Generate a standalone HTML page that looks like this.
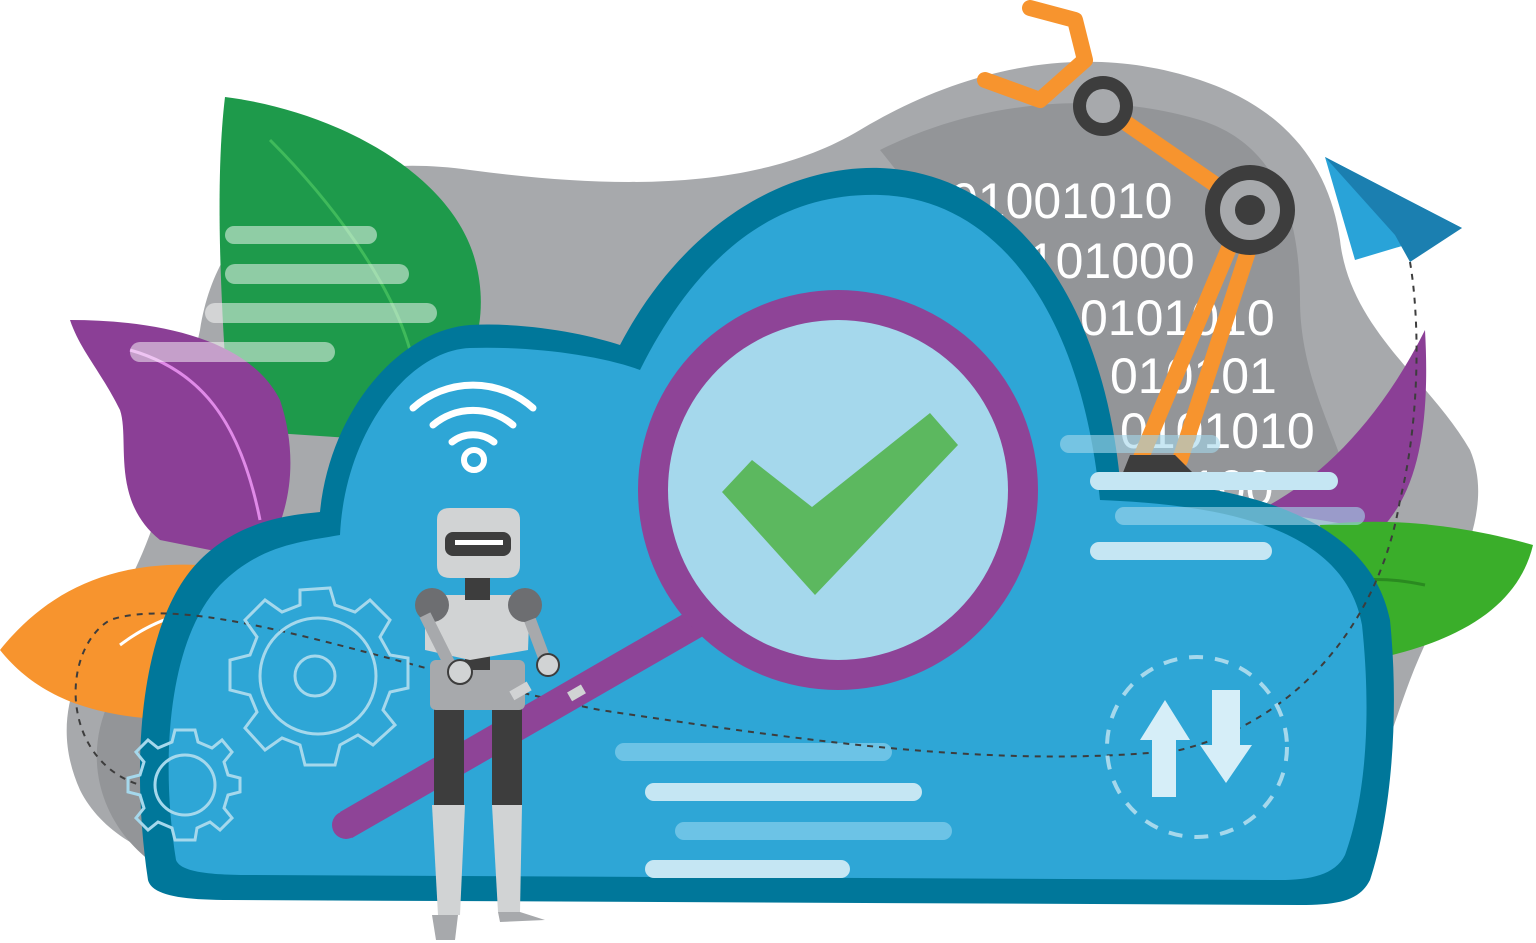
<!DOCTYPE html>
<html><head><meta charset="utf-8"><style>html,body{margin:0;padding:0;background:#fff;width:1536px;height:943px;overflow:hidden}svg{display:block}</style></head>
<body>
<svg width="1536" height="943" viewBox="0 0 1536 943" xmlns="http://www.w3.org/2000/svg">
<path d="M200,330 C220,200 330,150 470,170 C620,190 760,190 860,130 C960,70 1080,40 1200,80 C1290,110 1330,170 1340,240 C1350,330 1430,380 1470,450 C1500,520 1440,600 1410,680 C1380,760 1360,850 1300,880 L400,890 C250,890 120,870 80,790 C40,700 100,640 130,580 C170,500 180,420 200,330 Z" fill="#a7a9ac"/>
<path d="M880,150 C980,100 1100,90 1200,120 C1280,145 1300,220 1300,300 C1300,380 1340,440 1350,490 L1120,490 C1060,400 1000,300 880,150 Z" fill="#939598"/>
<path d="M110,700 C80,760 100,840 180,880 L300,880 L200,700 Z" fill="#939598"/>
<g font-family="Liberation Sans, sans-serif" font-size="50" fill="#fff">
<text x="950" y="218">01001010</text>
<text x="1000" y="278">0101000</text>
<text x="1080" y="335">0101010</text>
<text x="1110" y="393">010101</text>
<text x="1120" y="448">0101010</text>
<text x="1190" y="505">100</text>
</g>
<path d="M225,97 C330,110 450,170 475,260 C500,350 440,430 380,440 L230,430 C220,300 215,180 225,97 Z" fill="#1e9a4b"/>
<path d="M270,140 C330,200 390,280 410,350" stroke="#3fba5b" stroke-width="3" fill="none"/>
<path d="M70,320 C160,320 250,340 280,400 C300,460 290,520 260,560 L160,540 C110,500 130,440 120,410 C100,370 80,350 70,320 Z" fill="#8b3f96"/>
<path d="M130,350 C200,370 240,420 260,520" stroke="#e08ae8" stroke-width="3" fill="none"/>
<path d="M0,650 C40,600 100,560 200,565 L190,720 C100,720 40,700 0,650 Z" fill="#f7942e"/>
<path d="M120,645 C140,630 160,620 180,615" stroke="#fff" stroke-width="3" fill="none"/>
<path d="M1425,330 C1430,420 1420,490 1380,530 L1260,510 C1320,480 1380,420 1425,330 Z" fill="#8b3f96"/>
<path d="M1320,525 C1400,515 1480,530 1533,545 C1520,600 1470,640 1370,660 L1330,600 Z" fill="#3aae2a"/>
<path d="M1360,580 C1390,578 1410,582 1425,585" stroke="#2a8a20" stroke-width="3" fill="none"/>
<g fill="#ffffff" opacity="0.5">
<rect x="225" y="226" width="152" height="18" rx="9"/>
<rect x="225" y="264" width="184" height="20" rx="10"/>
<rect x="205" y="303" width="232" height="20" rx="10"/>
<rect x="130" y="342" width="205" height="20" rx="10"/>
</g>
<g stroke="#f7942e" stroke-width="16" fill="none" stroke-linecap="round" stroke-linejoin="round">
<path d="M1030,8 L1075,20 L1085,60 L1040,100 L985,80"/>
<path d="M1100,105 L1245,205"/>
<path d="M1245,210 L1140,460"/>
<path d="M1255,230 L1180,460"/>
</g>
<circle cx="1103" cy="106" r="30" fill="#3d3d3d"/><circle cx="1103" cy="106" r="17" fill="#a7a9ac"/>
<circle cx="1250" cy="210" r="45" fill="#3d3d3d"/><circle cx="1250" cy="210" r="30" fill="#a7a9ac"/><circle cx="1250" cy="210" r="15" fill="#3d3d3d"/>
<path d="M1130,455 L1175,455 L1200,480 L1120,480 Z" fill="#3d3d3d"/>
<path d="M1325,157 L1462,228 L1355,260 Z" fill="#29a3d8"/>
<path d="M1325,157 L1462,228 L1410,262 L1395,235 Z" fill="#1b7fb0"/>
<path d="M148,880 C130,760 140,620 200,560 C240,520 290,515 320,512 C330,410 400,330 470,325 C530,322 590,335 620,345 C680,230 780,165 880,168 C1000,172 1100,280 1120,480 C1250,485 1370,520 1390,620 C1400,720 1390,820 1370,880 C1360,900 1340,905 1300,905 L230,900 C180,900 152,895 148,880 Z" fill="#00779a"/>
<path d="M176,860 C160,760 168,640 220,585 C260,545 300,542 340,535 C345,430 410,350 470,348 C530,346 600,355 640,370 C700,250 780,192 880,195 C990,198 1080,300 1100,500 C1230,505 1345,530 1362,625 C1372,720 1365,800 1345,855 C1335,875 1310,880 1280,880 L250,875 C200,875 180,870 176,860 Z" fill="#2ea6d6"/>
<g fill="#a5d8ec" opacity="0.6"><rect x="1060" y="435" width="160" height="18" rx="9"/><rect x="1115" y="507" width="250" height="18" rx="9"/></g>
<g fill="#c5e6f3"><rect x="1090" y="472" width="248" height="18" rx="9"/><rect x="1090" y="542" width="182" height="18" rx="9"/>
<rect x="645" y="783" width="277" height="18" rx="9"/><rect x="645" y="860" width="205" height="18" rx="9"/></g>
<g fill="#6cc3e6"><rect x="615" y="743" width="277" height="18" rx="9"/><rect x="675" y="822" width="277" height="18" rx="9"/></g>
<path d="M1410,262 C1420,320 1420,420 1400,500 C1380,620 1300,720 1180,750 C1000,770 800,740 600,710 C400,670 200,590 110,620 C60,650 60,760 140,785" stroke="#3d3d3d" stroke-width="2" stroke-dasharray="6,6" fill="none"/>
<g stroke="#fff" stroke-width="7" fill="none" stroke-linecap="round">
<path d="M413,408 A90,90 0 0 1 533,408"/><path d="M433,425 A62,62 0 0 1 513,425"/><path d="M452,442 A34,34 0 0 1 494,442"/></g>
<circle cx="474" cy="460" r="10" stroke="#fff" stroke-width="6" fill="none"/>
<g stroke="#a5d8ec" stroke-width="3" fill="none">
<path d="M300,590 L330,588 L335,605 L355,612 L370,600 L390,620 L380,637 L390,655 L408,658 L408,688 L390,692 L383,710 L395,725 L373,745 L358,735 L340,745 L335,765 L305,765 L300,745 L282,738 L265,750 L245,728 L257,712 L250,695 L230,690 L230,660 L250,655 L257,637 L245,620 L265,600 L282,612 L300,605 Z"/>
<circle cx="318" cy="676" r="58"/><circle cx="315" cy="676" r="20"/>
<path d="M175,730 L195,730 L198,742 L212,748 L222,740 L232,752 L224,762 L228,775 L240,778 L240,792 L228,795 L224,808 L232,818 L220,830 L210,822 L197,828 L195,840 L175,840 L172,828 L158,822 L148,830 L136,818 L144,808 L140,795 L128,792 L128,778 L140,775 L144,762 L136,752 L148,740 L158,748 L172,742 Z"/>
<circle cx="185" cy="785" r="30"/>
</g>
<circle cx="1197" cy="747" r="90" stroke="#a5d8ec" stroke-width="4" fill="none" stroke-dasharray="14,12"/>
<path d="M1165,700 L1190,740 L1176,740 L1176,797 L1152,797 L1152,740 L1140,740 Z" fill="#d6eef8"/>
<path d="M1212,690 L1240,690 L1240,745 L1252,745 L1226,783 L1200,745 L1212,745 Z" fill="#d6eef8"/>
<path d="M352,838 L340,812 L690,610 L705,635 Z" fill="#8e4497"/>
<circle cx="346" cy="825" r="14" fill="#8e4497"/>
<circle cx="838" cy="490" r="200" fill="#8e4497"/>
<circle cx="838" cy="490" r="170" fill="#a5d8ec"/>
<path d="M722,492 L752,460 L812,507 L930,413 L958,445 L815,595 Z" fill="#5cb85f"/>
<g>
<rect x="434" y="705" width="30" height="100" fill="#3d3d3d"/><rect x="492" y="705" width="30" height="100" fill="#3d3d3d"/>
<path d="M432,805 L465,805 L460,915 L438,915 Z" fill="#d1d3d4"/>
<path d="M492,805 L522,805 L520,912 L498,912 Z" fill="#d1d3d4"/>
<path d="M432,915 L458,915 L455,940 L436,940 Z" fill="#a7a9ac"/>
<path d="M498,912 L520,912 L545,920 L500,922 Z" fill="#a7a9ac"/>
<rect x="430" y="660" width="95" height="50" rx="6" fill="#a7a9ac"/>
<rect x="465" y="630" width="25" height="40" fill="#3d3d3d"/>
<path d="M425,595 L530,595 L528,650 L470,660 L425,650 Z" fill="#d1d3d4"/>
<rect x="465" y="575" width="25" height="25" fill="#3d3d3d"/>
<path d="M437,520 Q437,508 450,508 L507,508 Q520,508 520,520 L520,565 Q520,578 507,578 L450,578 Q437,578 437,565 Z" fill="#d1d3d4"/>
<rect x="445" y="532" width="66" height="24" rx="8" fill="#3d3d3d"/>
<rect x="455" y="540" width="48" height="5" fill="#fff"/>
<circle cx="432" cy="605" r="17" fill="#6d6e71"/><circle cx="525" cy="605" r="17" fill="#6d6e71"/>
<path d="M425,615 L450,665" stroke="#a7a9ac" stroke-width="12"/>
<path d="M530,620 L545,660" stroke="#a7a9ac" stroke-width="12"/>
<circle cx="460" cy="672" r="12" fill="#d1d3d4" stroke="#3d3d3d" stroke-width="2"/>
<circle cx="548" cy="665" r="11" fill="#d1d3d4" stroke="#3d3d3d" stroke-width="2"/>
<rect x="510" y="686" width="20" height="10" fill="#d1d3d4" transform="rotate(-30 520 690)"/>
<rect x="568" y="688" width="16" height="10" fill="#d1d3d4" transform="rotate(-30 576 692)"/>
</g>
</svg>
</body></html>
